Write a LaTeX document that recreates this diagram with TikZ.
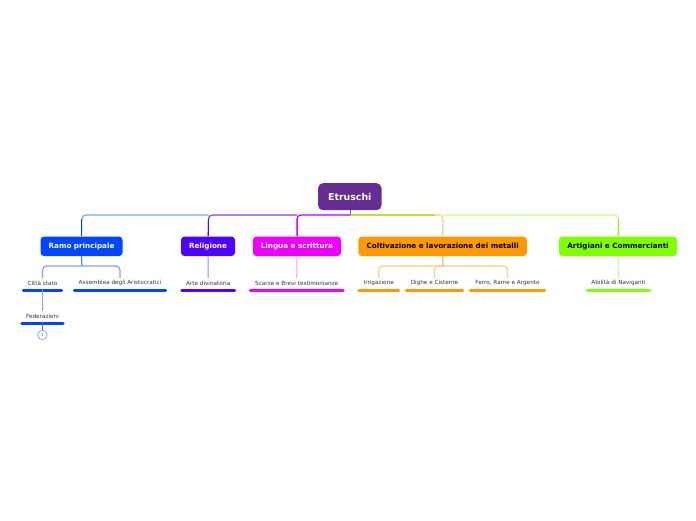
\documentclass[tikz,border=0pt]{standalone}
\usepackage{fontspec}
\setmainfont{DejaVu Sans}
\definecolor{viola}{HTML}{662D91}
\definecolor{blu}{HTML}{0045FF}
\definecolor{blulight}{HTML}{7FA2FF}
\definecolor{indaco}{HTML}{5000FF}
\definecolor{indacolight}{HTML}{A880FF}
\definecolor{magenta}{HTML}{EE00FF}
\definecolor{magentalight}{HTML}{F7A0FF}
\definecolor{arancio}{HTML}{FF9900}
\definecolor{ariancolight}{HTML}{FFCC80}
\definecolor{verde}{HTML}{80FF00}
\definecolor{verdelight}{HTML}{BFFF80}
\definecolor{giallo}{HTML}{C0E040}
\tikzset{mainbox/.style={rounded corners=3.5pt,inner sep=0pt,minimum height=19.5pt,font=\bfseries\fontsize{7.2}{8}\selectfont},
	leaf/.style={inner sep=0pt,minimum height=10pt,font=\fontsize{5.7}{6}\selectfont,text=black!80,anchor=south},
	bar/.style={line width=3pt,line cap=round},
	conn/.style={line width=1.2pt,rounded corners=4pt},
	stem/.style={line width=1pt}}

\begin{document}
\begin{tikzpicture}[x=1pt,y=-1pt]
		\useasboundingbox (0,0) rectangle (696,520);
		% junctions
		\coordinate (jroot) at (350,215);
		\coordinate (jramo) at (82,215);
		\coordinate (jrel) at (208.5,215);
		\coordinate (jlin) at (297,215);
		\coordinate (jcol) at (443,215);
		\coordinate (jart) at (618.5,215);
		\coordinate (jsub) at (82,266);
		\coordinate (jmet) at (443,266);
		% root and branches
		\node[mainbox,fill=viola,text=white,minimum width=63.5pt,minimum height=27pt,font=\bfseries\fontsize{9.4}{11}\selectfont,rounded corners=5pt] (root) at (349.8,196.7) {Etruschi};
		\begin{scope}[every node/.style={mainbox}]
			\node[fill=blu,text=white,minimum width=82pt] (ramo) at (81.5,246.3) {Ramo principale};
			\node[fill=indaco,text=white,minimum width=54pt] (rel) at (208,246.3) {Religione};
			\node[fill=magenta,text=white,minimum width=88pt] (lin) at (297,246.3) {Lingua e scrittura};
			\node[fill=arancio,text=black,minimum width=168.5pt] (col) at (442.7,246.3) {Coltivazione e lavorazione dei metalli};
			\node[fill=verde,text=black,minimum width=118pt] (art) at (618,246.3) {Artigiani e Commercianti};
		\end{scope}
		% leaves
		\begin{scope}[every node/.style={leaf}]
			\node[minimum width=41pt] (citta) at (42.5,288.4) {Città stato};
			\node[minimum width=94pt] (ass) at (120,288.4) {Assemblea degli Aristocratici};
			\node[minimum width=55.5pt] (arte) at (208.2,288.4) {Arte divinatoria};
			\node[minimum width=95.5pt] (sca) at (296.7,288.4) {Scarse e Brevi testimonianze};
			\node[minimum width=42.5pt] (irr) at (378.7,288.4) {Irrigazione};
			\node[minimum width=59pt] (dig) at (434.5,288.4) {Dighe e Cisterne};
			\node[minimum width=77pt] (fer) at (507.5,288.4) {Ferro, Rame e Argento};
			\node[minimum width=65pt] (abi) at (618.5,288.4) {Abilità di Naviganti};
			\node[minimum width=44pt] (fed) at (42.5,321.4) {Federazioni};
		\end{scope}
		\node[circle,draw=blulight,fill=white,line width=.7pt,inner sep=0pt,minimum size=9.5pt,font=\fontsize{4}{5}\selectfont,text=black!70] (num) at (42.5,335) {1};
		% bars
		\foreach \leafname/\leafcol in {citta/blu,ass/blu,fed/blu,arte/indaco,sca/magenta,irr/arancio,dig/arancio,fer/arancio,abi/verde}
			\draw[bar,\leafcol] ([xshift=1.5pt,yshift=-2.3pt]\leafname.south west) -- ([xshift=-1.5pt,yshift=-2.3pt]\leafname.south east);
		% top connectors
		\draw[conn,blulight] (jrel) -- (jramo) -- (ramo.north);
		\draw[conn,indaco!75!white] (jlin) -- (jrel) -- (rel.north);
		\draw[conn,magenta!60!indaco] (jroot) -- (jlin) -- (lin.north);
		\draw[conn,verdelight] (jcol) -- (jart) -- (art.north);
		\draw[conn,ariancolight] (jroot) -- (jcol) -- (col.north);
		\draw[conn,giallo] (jroot) -- ++(85,0);
		\draw[stem,viola!60!arancio] (root.south -| jroot) -- (jroot);
		\draw[stem,blu] (ramo.north) -- ++(0,-17);
		\draw[stem,indaco] (rel.north) -- ++(0,-17);
		\draw[stem,magenta] (lin.north) -- ++(0,-17);
		\draw[stem,verde] (art.north) -- ++(0,-17);
		% lower connectors
		\draw[conn,blulight] (citta.north) |- (jsub) -| (ass.north);
		\draw[stem,blu!80!white] (ramo.south) -- (jsub);
		\draw[stem,indacolight] (rel.south) -- (arte.north);
		\draw[stem,magentalight] (lin.south) -- (sca.north);
		\draw[stem,verdelight] (art.south) -- (abi.north);
		\draw[conn,ariancolight] (irr.north) |- (jmet) -| (fer.north);
		\draw[conn,ariancolight] (dig.north) |- (jmet);
		\draw[stem,arancio!85!white] (col.south) -- (jmet);
		\draw[stem,blulight] ([yshift=-1pt]citta.south) -- (fed.north);
		\draw[stem,blu!80!white] ([yshift=-1pt]fed.south) -- (num.north);
	\end{tikzpicture}
\end{document}
